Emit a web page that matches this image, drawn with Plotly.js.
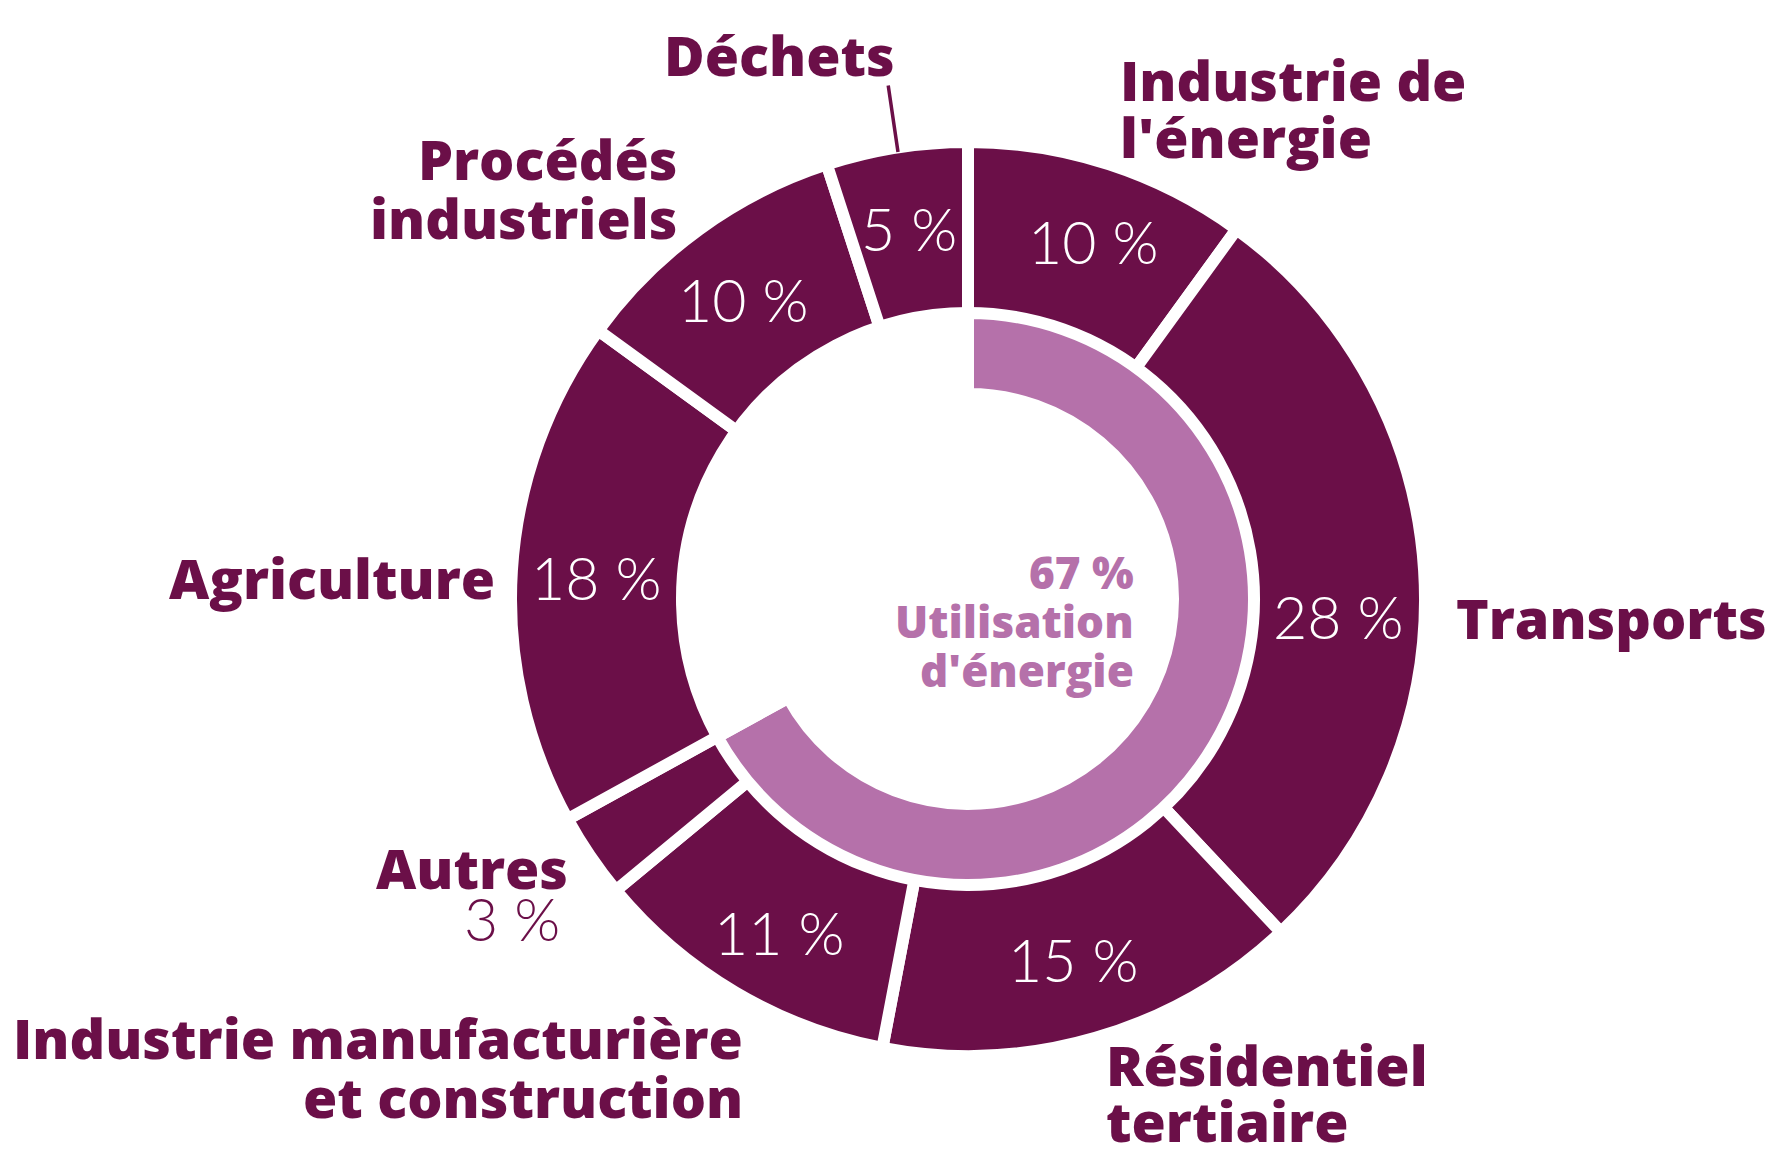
<!DOCTYPE html>
<html>
<head>
<meta charset="utf-8">
<script src="https://cdn.plot.ly/plotly-3.0.1.min.js"></script>
<style>html,body{margin:0;padding:0;background:#fff;}#chart{width:1771px;height:1151px;}</style>
</head>
<body>
<div id="chart"></div>
<script>
// ---- data ----
const sectors = ["Industrie de l'énergie", "Transports", "Résidentiel tertiaire", "Industrie manufacturière et construction", "Autres", "Agriculture", "Procédés industriels", "Déchets"];
const shares = [10, 28, 15, 11, 3, 18, 10, 5];
const sectorLines = [["Industrie de", "l'énergie"], ["Transports"], ["Résidentiel", "tertiaire"], ["Industrie manufacturière", "et construction"], ["Autres"], ["Agriculture"], ["Procédés", "industriels"], ["Déchets"]];
const energyShare = 67;
const energyLines = ["Utilisation", "d'énergie"];

// ---- styling / layout ----
const W = 1771, H = 1151;
const DARK = "#6b0f48", LIGHT = "#b571aa";
const GAP = 12;
const cx = 968, cy = 599;
const outerR = 451 + GAP / 2, outerIn = 290 - GAP / 2;
const innerR = 280 + GAP / 2, innerIn = 211 - GAP / 2;
const BOLD = "'Open Sans', Lato, sans-serif";
const LIGHTFONT = "Lato, 'Open Sans', sans-serif";
const NAME_SIZE = 55.5;

function dom(r) {
  return {
    x: [(cx - r) / W, (cx + r) / W],
    y: [(H - cy - r) / H, (H - cy + r) / H]
  };
}
const px = x => x / W;
const py = y => 1 - y / H;

// label placements (pixels): [x, y of first line, xanchor, line step]
const namePos = [
  [1118, 79, "left", 58],
  [1454, 617, "left", 58],
  [1104, 1064, "left", 56],
  [745, 1037, "right", 59],
  [570, 867, "right", 58],
  [497, 577, "right", 58],
  [679, 158, "right", 59],
  [779, 55, "center", 58]
];
// percentage placements
const pctPos = [
  [1093, 241, "#fff"],
  [1338, 616, "#fff"],
  [1073, 960, "#fff"],
  [779, 932, "#fff"],
  [562, 919, DARK, "right"],
  [596, 578, "#fff"],
  [743, 299, "#fff"],
  [909, 229, "#fff"]
];

const traces = [
  {
    type: "pie",
    values: shares,
    labels: sectors,
    sort: false,
    direction: "clockwise",
    rotation: 0,
    hole: outerIn / outerR,
    domain: dom(outerR),
    marker: { colors: sectors.map(() => DARK), line: { color: "#ffffff", width: GAP } },
    textinfo: "none",
    hoverinfo: "none",
    showlegend: false
  },
  {
    type: "pie",
    values: [energyShare, 100 - energyShare],
    labels: ["Utilisation d'énergie", "Autres émissions"],
    sort: false,
    direction: "clockwise",
    rotation: 0,
    hole: innerIn / innerR,
    domain: dom(innerR),
    marker: { colors: [LIGHT, "rgba(255,255,255,0)"], line: { color: "#ffffff", width: GAP } },
    textinfo: "none",
    hoverinfo: "none",
    showlegend: false
  }
];

const annotations = [];
sectorLines.forEach((lines, i) => {
  const [x, y, anchor, step] = namePos[i];
  lines.forEach((t, k) => {
    annotations.push({
      xref: "paper", yref: "paper", x: px(x), y: py(y + k * step),
      xanchor: anchor, yanchor: "middle", showarrow: false, text: t,
      font: { family: BOLD, size: NAME_SIZE, color: DARK, weight: 800 }
    });
  });
});
shares.forEach((v, i) => {
  const p = pctPos[i];
  annotations.push({
    xref: "paper", yref: "paper", x: px(p[0]), y: py(p[1]),
    xanchor: p[3] || "center", yanchor: "middle", showarrow: false,
    text: v + "\u00a0%",
    font: { family: LIGHTFONT, size: 59, color: p[2], weight: 300 }
  });
});
// Déchets leader line
annotations.push({
  xref: "paper", yref: "paper", axref: "paper", ayref: "paper",
  x: px(898), y: py(152), ax: px(888), ay: py(84),
  showarrow: true, arrowhead: 0, arrowwidth: 3.5, arrowcolor: DARK, text: ""
});
// centre label
const centreLines = [energyShare + "\u00a0%"].concat(energyLines);
centreLines.forEach((t, k) => {
  annotations.push({
    xref: "paper", yref: "paper", x: px(1136), y: py(572 + k * 49),
    xanchor: "right", yanchor: "middle", showarrow: false, text: t,
    font: { family: BOLD, size: 44, color: LIGHT, weight: 800 }
  });
});

const layout = {
  width: W, height: H,
  margin: { l: 0, r: 0, t: 0, b: 0 },
  paper_bgcolor: "#ffffff",
  plot_bgcolor: "#ffffff",
  showlegend: false,
  annotations: annotations
};

Plotly.newPlot("chart", traces, layout, { displayModeBar: false, staticPlot: true });
</script>
</body>
</html>
